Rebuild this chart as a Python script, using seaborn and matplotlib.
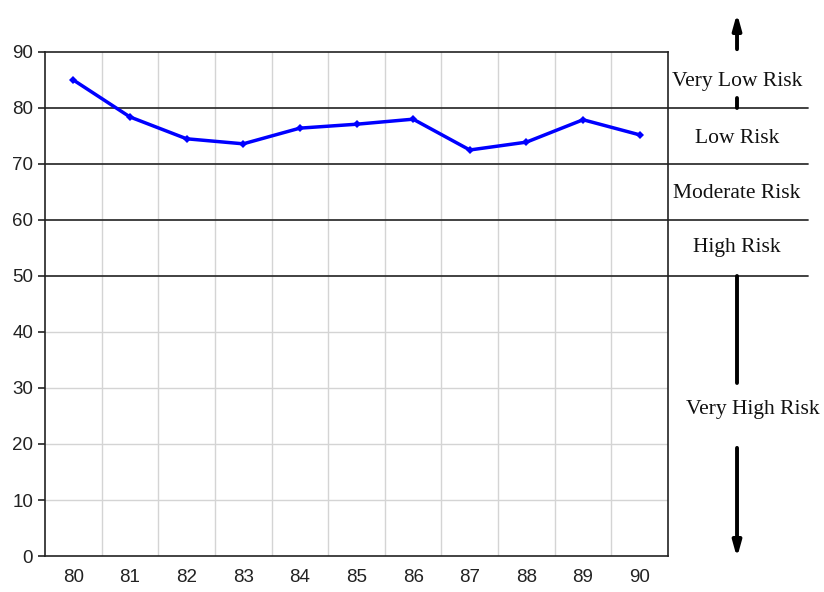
import matplotlib
matplotlib.use("Agg")
import matplotlib.pyplot as plt
import seaborn as sns
import pandas as pd

years = ['80', '81', '82', '83', '84', '85', '86', '87', '88', '89', '90']
risk_index = [85.0, 78.4, 74.5, 73.6, 76.4, 77.1, 78.0, 72.5, 73.9, 77.9, 75.2]
band_limits = [80, 70, 60, 50]
band_labels = ['Very Low Risk', 'Low Risk', 'Moderate Risk', 'High Risk', 'Very High Risk']
band_label_y = [84.8, 74.6, 64.8, 55.0, 26.1]

df = pd.DataFrame({'pos': range(len(years)), 'value': risk_index})

sns.set_style('white')
plt.rcParams['font.family'] = ['Liberation Sans', 'DejaVu Sans']

fig = plt.figure(figsize=(8.24, 5.92), dpi=100)
ax = fig.add_axes([0.0546, 0.0608, 0.7561, 0.8514])

# light grid
for y in [10, 20, 30, 40]:
    ax.axhline(y, color='#d4d4d4', lw=1, zorder=0)
for i in range(len(years) - 1):
    ax.axvline(i + 0.5, color='#d4d4d4', lw=1, zorder=0)

# risk band boundaries, drawn past the axes
xmax = (808 - 45) / 623
for y in band_limits:
    ax.axhline(y, xmin=0, xmax=xmax, color='#333333', lw=1.3, clip_on=False, zorder=1)

sns.lineplot(data=df, x='pos', y='value', color='#0000ff', lw=2.5, marker='D',
             markersize=4.5, markeredgewidth=0, ax=ax, zorder=3)

ax.set_xlim(-0.5, len(years) - 0.5)
ax.set_ylim(0, 90)
ax.set_yticks(range(0, 91, 10))
ax.set_xticks(range(len(years)))
ax.set_xticklabels(years)
ax.set_xticks([i - 0.5 for i in range(len(years) + 1)], minor=True)
ax.tick_params(axis='x', which='major', length=0, pad=9, labelsize=13.5, labelcolor='#222222')
ax.tick_params(axis='x', which='minor', length=7, width=1.2, direction='out', color='#222222')
ax.tick_params(axis='y', length=5, width=1.2, left=True, labelsize=13.5, colors='#222222')
ax.set_xlabel('')
ax.set_ylabel('')
for side in ['left', 'bottom', 'top', 'right']:
    ax.spines[side].set_visible(True)
    ax.spines[side].set_color('#222222')
    ax.spines[side].set_linewidth(1.2)

# right-hand labels
tr = ax.get_yaxis_transform()
xt = (737 - 45) / 623
for lab, y in zip(band_labels, band_label_y):
    xoff = xt + (0.026 if lab == 'Very High Risk' else 0)
    ax.text(xoff, y, lab, transform=tr, ha='center', va='center',
            fontsize=15.5, family=['Liberation Serif', 'DejaVu Serif'], color='#111111')

arrow = dict(arrowstyle='-|>,head_length=0.9,head_width=0.25', lw=2.8, color='black')
ax.annotate('', xy=(xt, 97.4), xytext=(xt, 90), xycoords=tr, textcoords=tr, arrowprops=arrow)
ax.plot([xt, xt], [80, 81.8], transform=tr, color='black', lw=2.8, clip_on=False)
ax.plot([xt, xt], [50, 30.9], transform=tr, color='black', lw=2.8, clip_on=False)
ax.annotate('', xy=(xt, -0.8), xytext=(xt, 19.8), xycoords=tr, textcoords=tr, arrowprops=arrow)

fig.savefig('out.png', dpi=100)
